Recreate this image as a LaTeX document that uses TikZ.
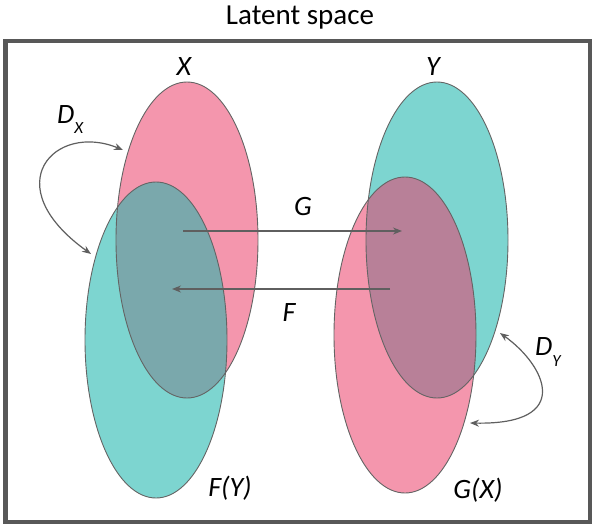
\documentclass[tikz,border=0pt]{standalone}
\usepackage{fontspec}
\setmainfont{Carlito}
\usetikzlibrary{arrows.meta}
\definecolor{pinkc}{RGB}{244,150,173}
\definecolor{tealc}{RGB}{125,213,208}
\definecolor{ovL}{RGB}{122,168,172}
\definecolor{ovR}{RGB}{184,128,152}
\definecolor{edgec}{RGB}{100,100,100}
\definecolor{arrc}{RGB}{95,95,95}
\definecolor{framec}{RGB}{88,88,88}
\begin{document}
\begin{tikzpicture}[x=1pt,y=-1pt,
  lbl/.style={font=\fontsize{28}{30}\selectfont\itshape, inner sep=0pt},
  ttl/.style={font=\fontsize{29}{32}\selectfont, inner sep=0pt},
  arr/.style={draw=arrc, line width=1.3pt, -{Stealth[length=9pt,width=7pt]}},
  darr/.style={draw=arrc, line width=1.2pt, {Stealth[length=9pt,width=7pt]}-{Stealth[length=9pt,width=7pt]}},
  edgeline/.style={draw=edgec, line width=0.9pt},
  ell/.style={x radius=71, y radius=158}]
\useasboundingbox (0,0) rectangle (598,531);
% frame
\draw[draw=framec, line width=4.5pt] (5.5,41) rectangle (590,522);
% left pair
\fill[pinkc] (187,240) ellipse [ell];
\fill[tealc] (156,340) ellipse [ell];
\begin{scope}
  \clip (187,240) ellipse [ell];
  \fill[ovL] (156,340) ellipse [ell];
\end{scope}
\draw[edgeline] (187,240) ellipse [ell];
\draw[edgeline] (156,340) ellipse [ell];
% right pair
\fill[tealc] (437,240) ellipse [ell];
\fill[pinkc] (405,335) ellipse [ell];
\begin{scope}
  \clip (437,240) ellipse [ell];
  \fill[ovR] (405,335) ellipse [ell];
\end{scope}
\draw[edgeline] (437,240) ellipse [ell];
\draw[edgeline] (405,335) ellipse [ell];
% title and labels
\node[ttl] (title) at (300,18) {Latent space};
\node[lbl] (lx) at (184,67) {X};
\node[lbl] (ly) at (433,67) {Y};
\node[lbl] (lg) at (303,207) {G};
\node[lbl] (lf) at (289,313) {F};
\node[lbl] (lfy) at (230,488) {F(Y)};
\node[lbl] (lgx) at (478,490) {G(X)};
\node[lbl, anchor=base west] (ldx) at (57,123) {D\raisebox{-10pt}{\fontsize{17}{17}\selectfont X}};
\node[lbl, anchor=base west] (ldy) at (535,355) {D\raisebox{-11pt}{\fontsize{17}{17}\selectfont Y}};
% mapping arrows
\coordinate (gS) at (183,231);
\coordinate (gE) at (402,231);
\coordinate (fS) at (390,289);
\coordinate (fE) at (172,289);
\draw[arr] (gS) -- (gE);
\draw[arr] (fS) -- (fE);
% discriminator arrows
\coordinate (dxa) at (123,150);
\coordinate (dxb) at (91,254);
\draw[darr] (dxa) .. controls (55,122) and (-5,185) .. (dxb);
\coordinate (dya) at (500,333);
\coordinate (dyb) at (470,423);
\draw[darr] (dya) .. controls (545,365) and (575,425) .. (dyb);
\end{tikzpicture}
\end{document}
